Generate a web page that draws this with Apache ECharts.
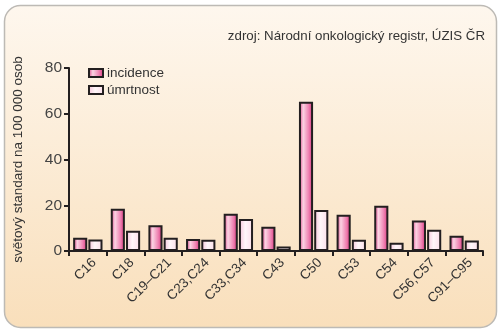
<!DOCTYPE html>
<html>
<head>
<meta charset="utf-8">
<style>
  html, body { margin: 0; padding: 0; background: #ffffff; }
  #chart { width: 502px; height: 333px; }
</style>
<script src="https://cdn.jsdelivr.net/npm/echarts@6/dist/echarts.min.js"></script>
</head>
<body>
<div id="chart"></div>
<script>
// Diagnosis groups (ICD-10 codes)
const categories = ['C16', 'C18', 'C19–C21', 'C23,C24', 'C33,C34', 'C43', 'C50', 'C53', 'C54', 'C56,C57', 'C91–C95'];
// Age-standardised rates per 100 000 (world standard)
const incidence = [5.8, 18.5, 11.3, 5.2, 16.3, 10.6, 65.2, 15.9, 19.8, 13.3, 6.7];
const mortality = [5.0, 8.9, 5.8, 4.9, 14.0, 2.0, 17.9, 4.9, 3.6, 9.3, 4.6];
const yTicks = { min: 0, max: 80, step: 20 };

const FONT = '"Liberation Sans", Arial, sans-serif';
const chart = echarts.init(document.getElementById('chart'), null, { renderer: 'canvas' });

const incidenceFill = new echarts.graphic.LinearGradient(0, 0, 1, 0, [
  { offset: 0, color: '#d9357f' },
  { offset: 0.3, color: '#fbd3e3' },
  { offset: 0.7, color: '#ee7fb0' },
  { offset: 1, color: '#d42f78' }
]);
const mortalityFill = new echarts.graphic.LinearGradient(0, 0, 1, 0, [
  { offset: 0, color: '#f4c2d8' },
  { offset: 0.45, color: '#fff7fa' },
  { offset: 1, color: '#fbdde9' }
]);

chart.setOption({
  animation: false,
  backgroundColor: '#ffffff',
  graphic: [
    {
      type: 'rect',
      z: -10,
      shape: { x: 4.5, y: 5.5, width: 492, height: 322, r: 16 },
      style: {
        fill: new echarts.graphic.LinearGradient(0, 0, 0, 1, [
          { offset: 0, color: '#fef7ee' },
          { offset: 1, color: '#f9dfbb' }
        ]),
        stroke: '#bdbab5',
        lineWidth: 1.5
      }
    },
    {
      type: 'text',
      right: 17,
      top: 30,
      style: {
        text: 'zdroj: Národní onkologický registr, ÚZIS ČR',
        font: '13.3px ' + FONT,
        fill: '#333333'
      }
    }
  ],
  legend: {
    left: 83,
    top: 61,
    orient: 'vertical',
    icon: 'rect',
    itemWidth: 14,
    itemHeight: 8,
    itemGap: 3,
    textStyle: { fontFamily: FONT, fontSize: 13.5, color: '#333333', padding: [0, 0, 0, -1] },
    data: ['incidence', 'úmrtnost']
  },
  grid: { left: 69, right: 19, top: 68, bottom: 82, containLabel: false },
  xAxis: {
    type: 'category',
    data: categories,
    boundaryGap: true,
    axisLine: { lineStyle: { color: '#231f20', width: 2 } },
    axisTick: { show: true, length: 5, lineStyle: { color: '#231f20', width: 2 } },
    axisLabel: {
      rotate: 45,
      interval: 0,
      margin: 16,
      fontFamily: FONT,
      fontSize: 13.5,
      color: '#333333',
      padding: [0, -9, 0, 0]
    }
  },
  yAxis: {
    type: 'value',
    min: yTicks.min,
    max: yTicks.max,
    interval: yTicks.step,
    name: 'světový standard na 100 000 osob',
    nameLocation: 'middle',
    nameGap: 44,
    nameRotate: 90,
    nameTextStyle: { fontFamily: FONT, fontSize: 13.5, color: '#333333' },
    axisLine: { show: true, lineStyle: { color: '#231f20', width: 2 } },
    axisTick: { show: true, length: 5, lineStyle: { color: '#231f20', width: 2 } },
    splitLine: { show: false },
    axisLabel: { fontFamily: FONT, fontSize: 15.5, color: '#444444', margin: 7 }
  },
  series: [
    {
      name: 'incidence',
      type: 'bar',
      data: incidence,
      barGap: '8%',
      barCategoryGap: '22%',
      itemStyle: { color: incidenceFill, borderColor: '#231f20', borderWidth: 2 }
    },
    {
      name: 'úmrtnost',
      type: 'bar',
      data: mortality,
      itemStyle: { color: mortalityFill, borderColor: '#231f20', borderWidth: 2 }
    }
  ]
});
</script>
</body>
</html>
